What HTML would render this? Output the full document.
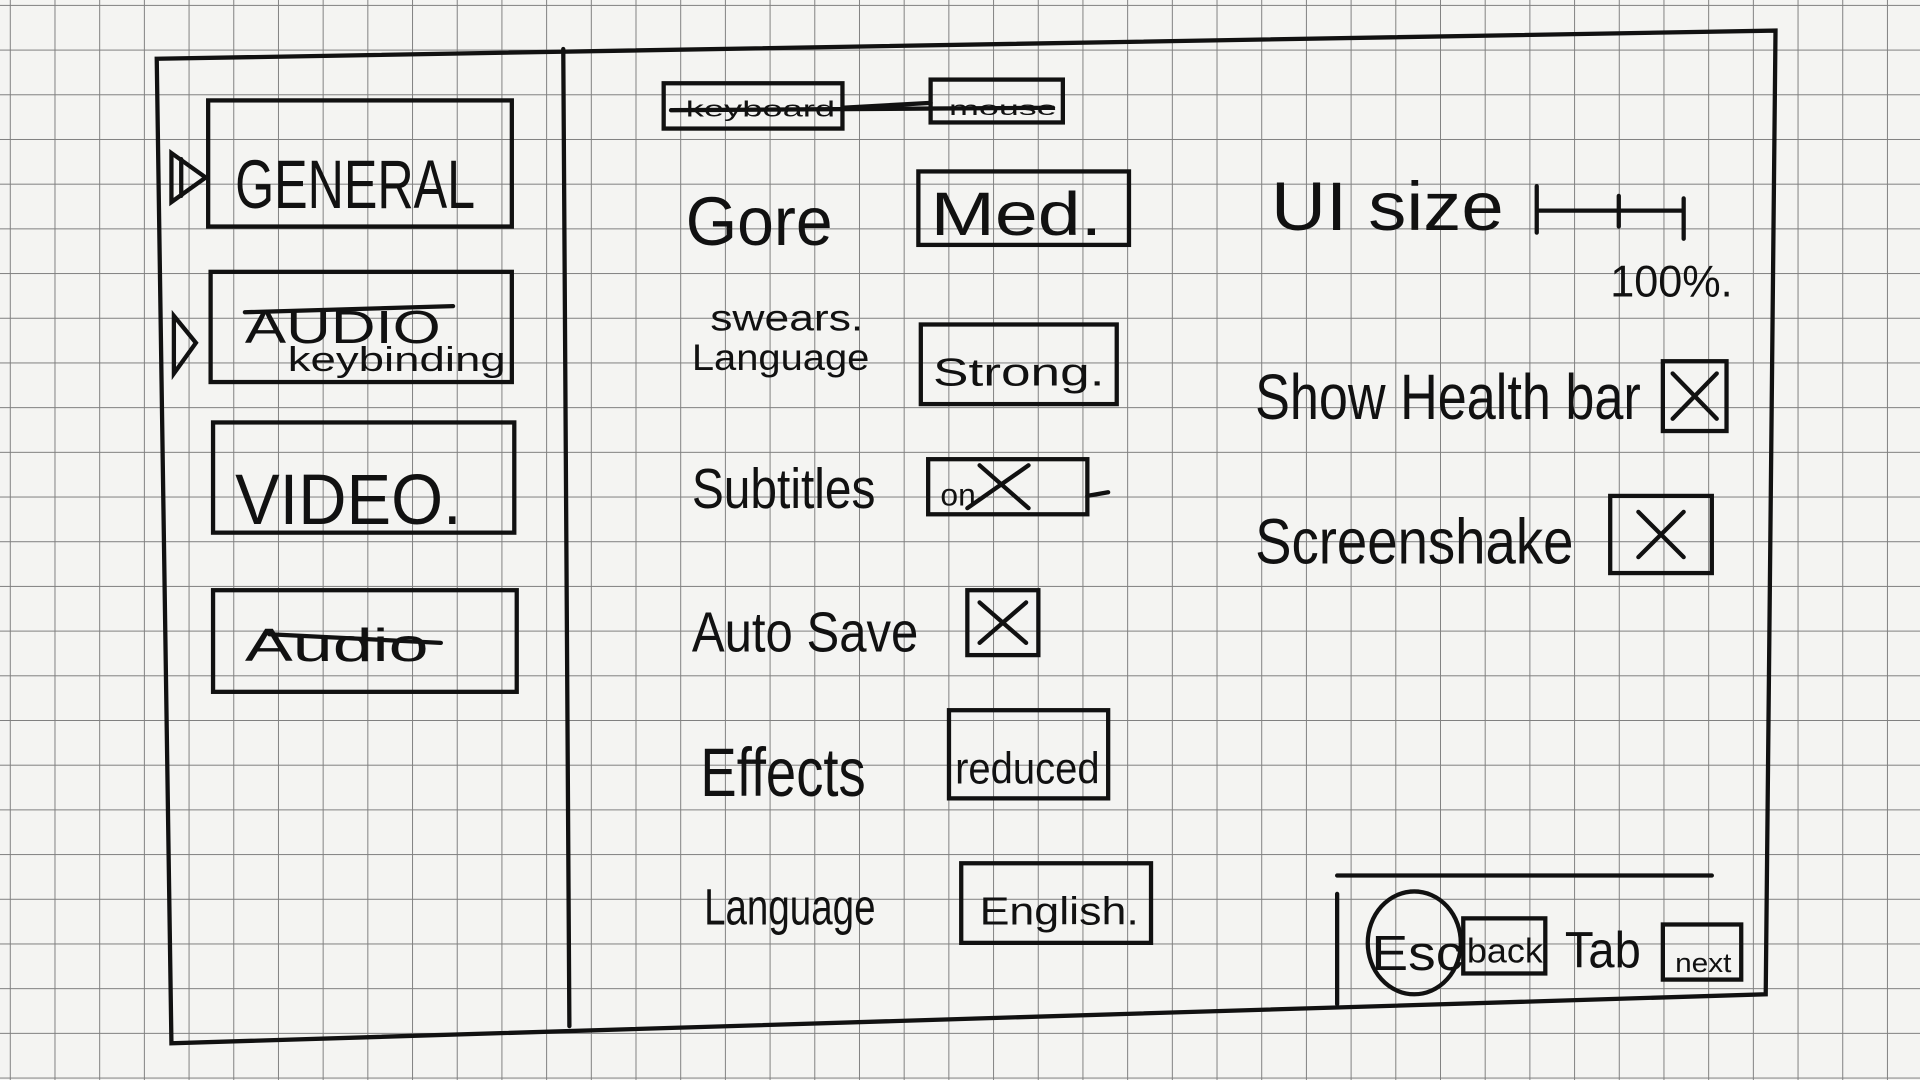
<!DOCTYPE html>
<html><head><meta charset="utf-8"><style>
html,body{margin:0;padding:0;width:1920px;height:1080px;overflow:hidden;background:#f3f3f1}
svg{display:block}
text{font-family:"Liberation Sans",sans-serif;fill:#111;font-weight:300}
</style></head><body>
<svg width="1920" height="1080" viewBox="0 0 1568 882" preserveAspectRatio="none" xmlns="http://www.w3.org/2000/svg">
<defs>
<pattern id="g" x="8" y="4" width="36.5" height="36.5" patternUnits="userSpaceOnUse">
<path d="M0 0H36.5M0 0V36.5" stroke="#7f7f7f" stroke-width="1.6" fill="none"/>
</pattern>
</defs>
<rect width="1568" height="882" fill="#f4f4f2"/>
<rect width="1568" height="882" fill="url(#g)"/>
<g stroke="#111" stroke-width="3.5" fill="none" stroke-linecap="round">
<path d="M128 48 L1450 25 L1442 812 L140 852 Z"/>
<path d="M460 40 L465 838"/>
<rect x="170" y="82" width="248" height="103"/>
<path d="M140 125 L168 145 L140 165 Z M148 130 L148 160"/>
<rect x="172" y="222" width="246" height="90"/>
<path d="M142 258 L160 280 L142 305 Z"/>
<rect x="174" y="345" width="246" height="90"/>
<rect x="174" y="482" width="248" height="83"/>
<path d="M200 255 L370 250 M220 518 L360 525"/>
<rect x="542" y="68" width="146" height="37"/>
<rect x="760" y="65" width="108" height="35"/>
<path d="M688 88 L760 84 M548 90 L860 88"/>
<rect x="750" y="140" width="172" height="60"/>
<rect x="752" y="265" width="160" height="65"/>
<rect x="758" y="375" width="130" height="45"/>
<path d="M888 405 L905 402 M800 380 L840 415 M790 415 L840 380"/>
<rect x="790" y="482" width="58" height="53"/>
<path d="M800 492 L838 525 M838 492 L800 525"/>
<rect x="775" y="580" width="130" height="72"/>
<rect x="785" y="705" width="155" height="65"/>
<path d="M1255 172 L1375 172 M1255 152 L1255 190 M1322 160 L1322 185 M1375 162 L1375 195"/>
<rect x="1358" y="295" width="52" height="57"/>
<path d="M1366 305 L1402 342 M1402 305 L1366 342"/>
<rect x="1315" y="405" width="83" height="63"/>
<path d="M1338 418 L1375 455 M1375 418 L1338 455"/>
<path d="M1092 715 L1398 715 M1092 730 L1092 820"/>
<ellipse cx="1155" cy="770" rx="38" ry="42"/>
<rect x="1195" y="750" width="67" height="45"/>
<rect x="1358" y="755" width="64" height="45"/>
</g>
<text x="192" y="170" font-size="56" textLength="196" lengthAdjust="spacingAndGlyphs">GENERAL</text>
<text x="200" y="280" font-size="38" textLength="160" lengthAdjust="spacingAndGlyphs">AUDIO</text>
<text x="235" y="303" font-size="28" textLength="178" lengthAdjust="spacingAndGlyphs">keybinding</text>
<text x="192" y="428" font-size="58" textLength="185" lengthAdjust="spacingAndGlyphs">VIDEO.</text>
<text x="200" y="540" font-size="38" textLength="150" lengthAdjust="spacingAndGlyphs">Audio</text>
<text x="560" y="95" font-size="18" textLength="122" lengthAdjust="spacingAndGlyphs">keyboard</text>
<text x="775" y="94" font-size="16" textLength="88" lengthAdjust="spacingAndGlyphs">mouse</text>
<text x="560" y="200" font-size="56" textLength="120" lengthAdjust="spacingAndGlyphs">Gore</text>
<text x="760" y="192" font-size="50" textLength="140" lengthAdjust="spacingAndGlyphs">Med.</text>
<text x="580" y="270" font-size="30" textLength="125" lengthAdjust="spacingAndGlyphs">swears.</text>
<text x="565" y="302" font-size="30" textLength="145" lengthAdjust="spacingAndGlyphs">Language</text>
<text x="762" y="315" font-size="32" textLength="140" lengthAdjust="spacingAndGlyphs">Strong.</text>
<text x="565" y="415" font-size="46" textLength="150" lengthAdjust="spacingAndGlyphs">Subtitles</text>
<text x="768" y="413" font-size="26">on</text>
<text x="565" y="532" font-size="46" textLength="185" lengthAdjust="spacingAndGlyphs">Auto Save</text>
<text x="572" y="650" font-size="56" textLength="135" lengthAdjust="spacingAndGlyphs">Effects</text>
<text x="780" y="640" font-size="36" textLength="118" lengthAdjust="spacingAndGlyphs">reduced</text>
<text x="575" y="755" font-size="42" textLength="140" lengthAdjust="spacingAndGlyphs">Language</text>
<text x="800" y="755" font-size="32" textLength="130" lengthAdjust="spacingAndGlyphs">English.</text>
<text x="1038" y="188" font-size="56" textLength="190" lengthAdjust="spacingAndGlyphs">UI size</text>
<text x="1315" y="242" font-size="36" textLength="100" lengthAdjust="spacingAndGlyphs">100%.</text>
<text x="1025" y="342" font-size="52" textLength="315" lengthAdjust="spacingAndGlyphs">Show Health bar</text>
<text x="1025" y="460" font-size="52" textLength="260" lengthAdjust="spacingAndGlyphs">Screenshake</text>
<text x="1120" y="792" font-size="40" textLength="75" lengthAdjust="spacingAndGlyphs">Esc</text>
<text x="1198" y="786" font-size="28" textLength="62" lengthAdjust="spacingAndGlyphs">back</text>
<text x="1278" y="790" font-size="42" textLength="62" lengthAdjust="spacingAndGlyphs">Tab</text>
<text x="1368" y="794" font-size="22" textLength="46" lengthAdjust="spacingAndGlyphs">next</text>
</svg>
</body></html>
